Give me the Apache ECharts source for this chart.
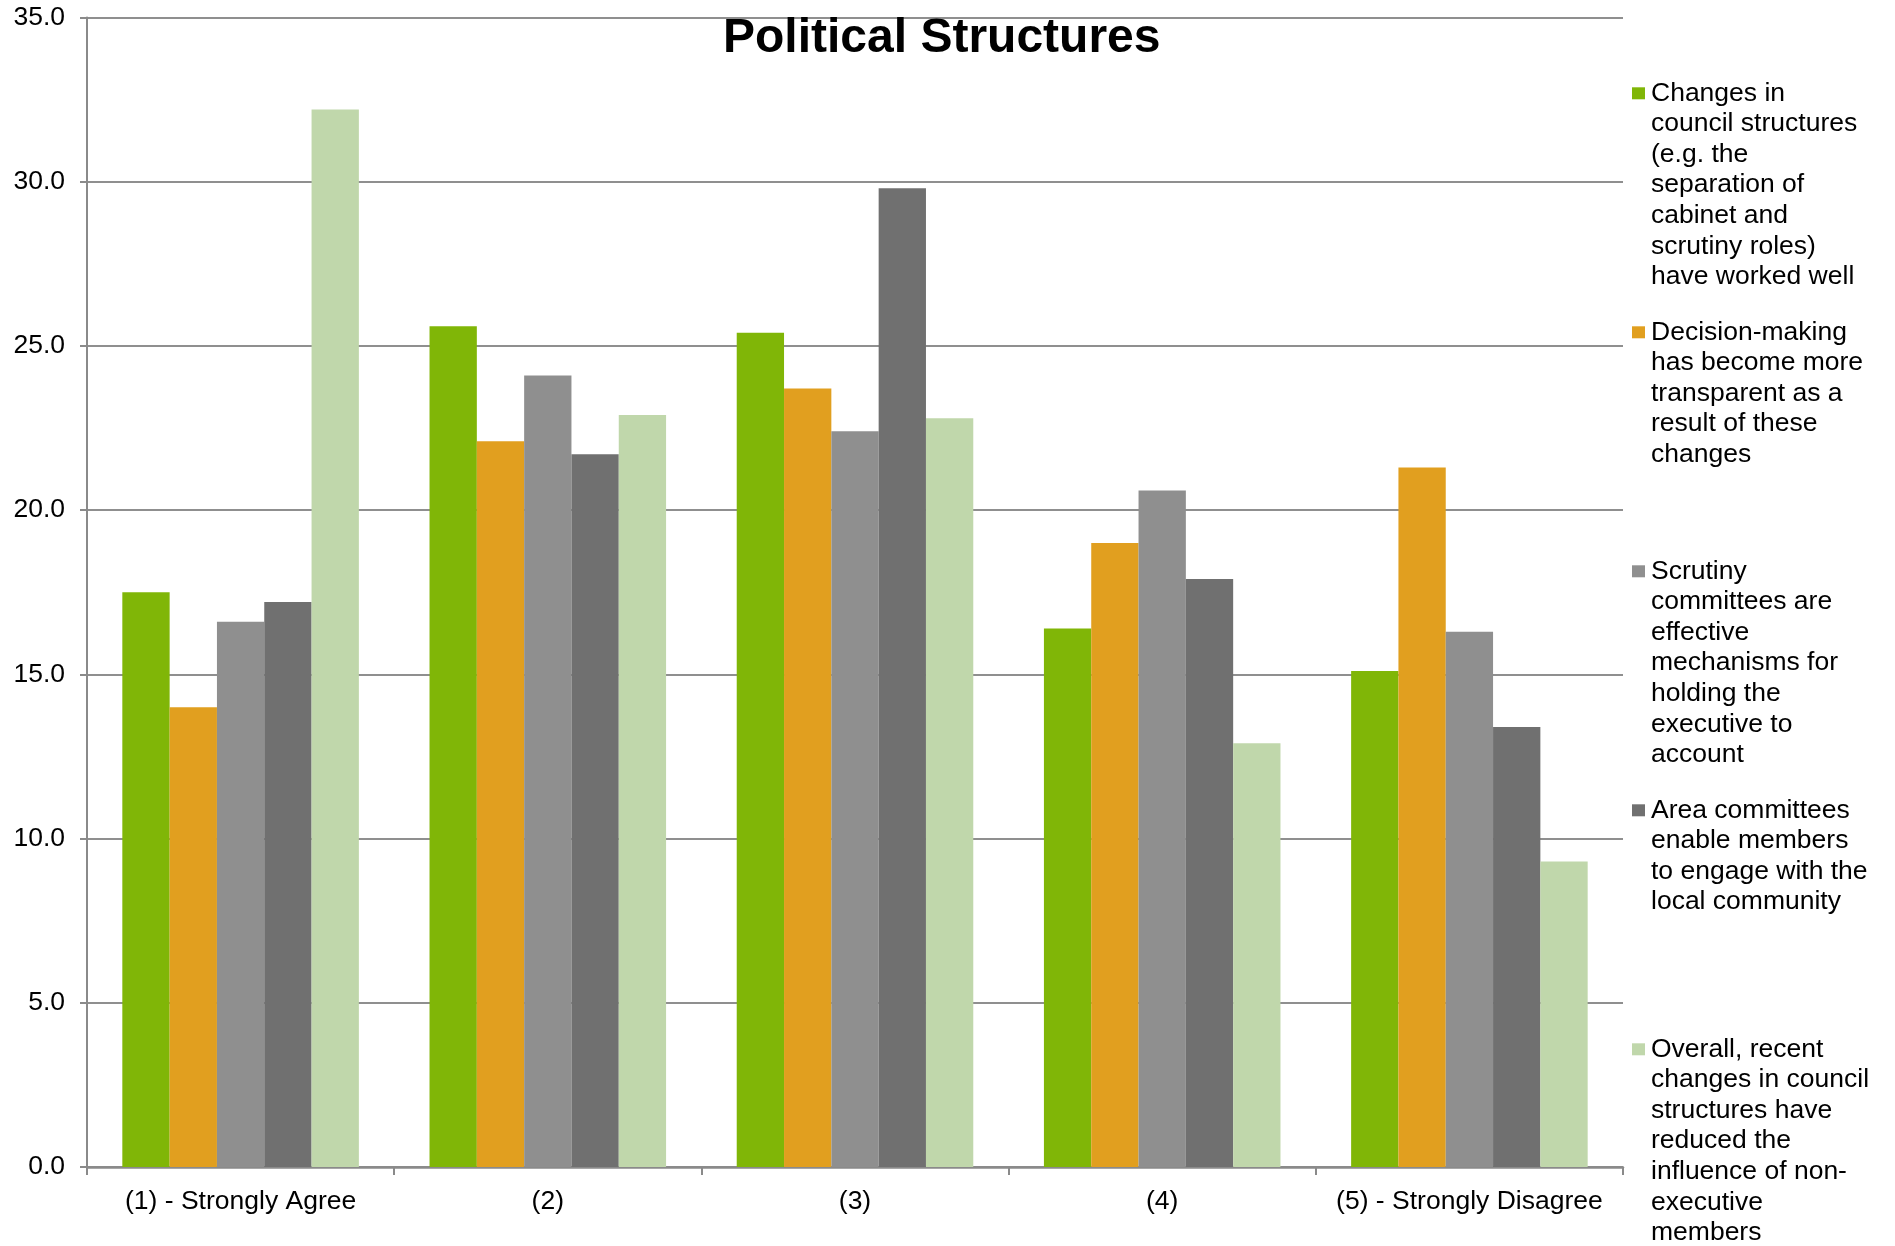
<!DOCTYPE html>
<html>
<head>
<meta charset="utf-8">
<title>Political Structures</title>
<script src="https://cdn.jsdelivr.net/npm/echarts@6/dist/echarts.min.js"></script>
<style>
  html, body { margin: 0; padding: 0; background: #ffffff; }
  #chart { width: 1895px; height: 1246px; }
</style>
</head>
<body>
<div id="chart"></div>
<script>
// Response categories on the agreement scale
const categories = ['(1) - Strongly Agree', '(2)', '(3)', '(4)', '(5) - Strongly Disagree'];

// Statement names (series)
const seriesNames = [
  'Changes in council structures (e.g. the separation of cabinet and scrutiny roles) have worked well',
  'Decision-making has become more transparent as a result of these changes',
  'Scrutiny committees are effective mechanisms for holding the executive to account',
  'Area committees enable members to engage with the local community',
  'Overall, recent changes in council structures have reduced the influence of non-executive members'
];

// Wrapped legend lines for each statement
const legendLines = [
  ['Changes in', 'council structures', '(e.g. the', 'separation of', 'cabinet and', 'scrutiny roles)', 'have worked well'],
  ['Decision-making', 'has become more', 'transparent as a', 'result of these', 'changes'],
  ['Scrutiny', 'committees are', 'effective', 'mechanisms for', 'holding the', 'executive to', 'account'],
  ['Area committees', 'enable members', 'to engage with the', 'local community'],
  ['Overall, recent', 'changes in council', 'structures have', 'reduced the', 'influence of non-', 'executive', 'members']
];

// Percentage of responses per category
const structuresWorked  = [17.5, 25.6, 25.4, 16.4, 15.1];
const moreTransparent   = [14.0, 22.1, 23.7, 19.0, 21.3];
const scrutinyEffective = [16.6, 24.1, 22.4, 20.6, 16.3];
const areaCommittees    = [17.2, 21.7, 29.8, 17.9, 13.4];
const reducedInfluence  = [32.2, 22.9, 22.8, 12.9, 9.3];

// Value axis ticks
const yTicks = [0, 5, 10, 15, 20, 25, 30, 35];

const seriesValues = [structuresWorked, moreTransparent, scrutinyEffective, areaCommittees, reducedInfluence];
const colors = ['#80b607', '#e19f1f', '#8f8f8f', '#707070', '#c0d7ab'];

const FONT = '"Liberation Sans", Arial, Helvetica, sans-serif';
const LABEL_SIZE = 26.5;
const LINE_H = 30.6;
const legendTops = [78, 317, 556, 795, 1034];

const chart = echarts.init(document.getElementById('chart'), null, { renderer: 'canvas' });

const legends = seriesNames.map((name, i) => ({
  data: [name],
  orient: 'vertical',
  left: 1627,
  top: legendTops[i],
  padding: 0,
  icon: 'none',
  itemWidth: 0,
  itemHeight: 12,
  formatter: (n) => {
    const lines = legendLines[seriesNames.indexOf(n)];
    return lines.map((l, k) => (k === 0 ? '{m|}{g|}' : '{s|}') + '{t|' + l + '}').join('\n');
  },
  textStyle: {
    fontFamily: FONT,
    fontSize: LABEL_SIZE,
    lineHeight: LINE_H,
    color: '#000',
    rich: {
      m: { width: 13, height: 12, backgroundColor: colors[i] },
      g: { width: 6 },
      s: { width: 19 },
      t: { fontFamily: FONT, fontSize: LABEL_SIZE, lineHeight: LINE_H, color: '#000' }
    }
  }
}));

chart.setOption({
  backgroundColor: '#ffffff',
  animation: false,
  title: {
    text: 'Political Structures',
    left: 723,
    top: 15,
    padding: 0,
    textStyle: { fontFamily: FONT, fontSize: 48, fontWeight: 'bold', color: '#000' }
  },
  legend: legends,
  grid: { left: 87, right: 272, top: 17.5, bottom: 79, containLabel: false },
  xAxis: {
    type: 'category',
    data: categories,
    axisLine: { show: true, lineStyle: { color: '#8a8a8a', width: 2.5 } },
    axisTick: { show: true, length: 8, lineStyle: { color: '#8a8a8a', width: 2 } },
    axisLabel: { fontFamily: FONT, fontSize: LABEL_SIZE, color: '#000', margin: 21, interval: 0 },
    splitLine: { show: false }
  },
  yAxis: {
    type: 'value',
    min: yTicks[0],
    max: yTicks[yTicks.length - 1],
    interval: yTicks[1] - yTicks[0],
    axisLine: { show: true, lineStyle: { color: '#8a8a8a', width: 2 } },
    axisTick: { show: true, length: 7, lineStyle: { color: '#8a8a8a', width: 2 } },
    axisLabel: {
      fontFamily: FONT, fontSize: LABEL_SIZE, color: '#000', margin: 22,
      formatter: (v) => v.toFixed(1)
    },
    splitLine: { show: true, lineStyle: { color: '#8f8f8f', width: 2 } }
  },
  series: seriesNames.map((name, i) => ({
    name: name,
    type: 'bar',
    data: seriesValues[i],
    barGap: '0%',
    barCategoryGap: '23%',
    itemStyle: { color: colors[i] },
    emphasis: { disabled: true }
  }))
});
</script>
</body>
</html>
